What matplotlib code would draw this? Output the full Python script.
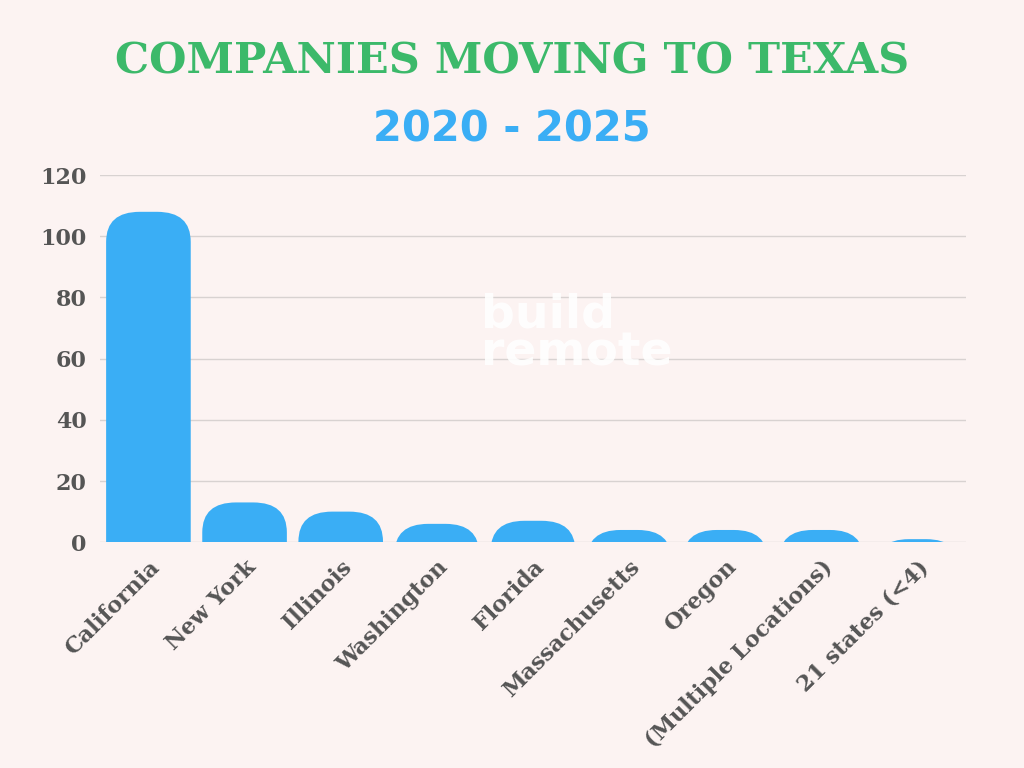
import matplotlib.pyplot as plt
from matplotlib.patches import FancyBboxPatch

states = ["California", "New York", "Illinois", "Washington", "Florida",
          "Massachusetts", "Oregon", "(Multiple Locations)", "21 states (<4)"]
companies = [108, 13, 10, 6, 7, 4, 4, 4, 1]
yticks = [0, 20, 40, 60, 80, 100, 120]

bg = "#fcf3f2"
blue = "#3aaef5"
green = "#3cb96a"
grey = "#555555"

fig = plt.figure(figsize=(10.24, 7.68), dpi=100, facecolor=bg)
ax = fig.add_axes([0.098, 0.294, 0.845, 0.478], facecolor=bg)

width = 0.88
for i, v in enumerate(companies):
    box = FancyBboxPatch((i - width / 2, -25), width, v + 25,
                         boxstyle="round,pad=0,rounding_size=0.35",
                         mutation_aspect=28, facecolor=blue, edgecolor="none",
                         zorder=3)
    ax.add_patch(box)

ax.set_xlim(-0.5, len(states) - 0.5)
ax.set_ylim(0, 120)
ax.set_yticks(yticks)
ax.set_xticks(range(len(states)))
ax.set_xticklabels(states, rotation=45, ha="right", rotation_mode="anchor")
ax.grid(axis="y", color="#d8d2d1", linewidth=1, zorder=0)
for s in ax.spines.values():
    s.set_visible(False)
ax.tick_params(length=0, pad=10, labelsize=16, labelcolor=grey)
for lab in ax.get_xticklabels() + ax.get_yticklabels():
    lab.set_fontfamily("DejaVu Serif")
    lab.set_fontweight("bold")

fig.text(0.5, 0.92, "COMPANIES MOVING TO TEXAS", ha="center", va="center",
         fontsize=31, color=green, fontweight="bold", family="DejaVu Serif")
fig.text(0.5, 0.832, "2020 - 2025", ha="center", va="center",
         fontsize=30, color=blue, fontweight="bold", family="DejaVu Sans")
fig.text(0.47, 0.565, "build\nremote", ha="left", va="center", fontsize=34,
         color="white", fontweight="bold", linespacing=0.8, alpha=0.9,
         zorder=5)

fig.savefig("out.png", dpi=100, facecolor=bg)
